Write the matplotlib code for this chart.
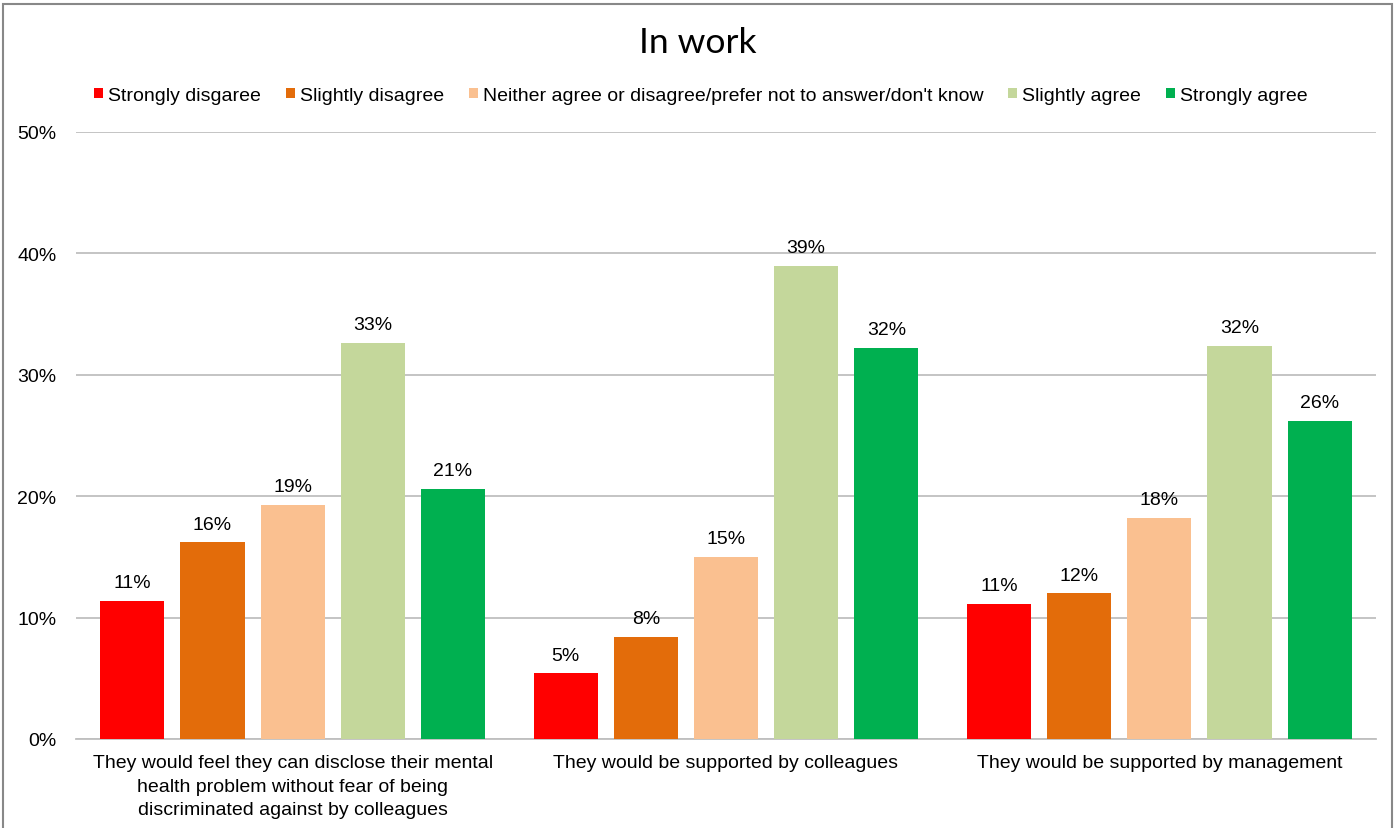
import numpy as np
import matplotlib
matplotlib.use('Agg')
import matplotlib.pyplot as plt
from matplotlib.patches import Patch, Rectangle

plt.rcParams['font.family'] = ['Liberation Sans', 'DejaVu Sans']

categories = ['They would feel they can disclose their mental\n'
              'health problem without fear of being\n'
              'discriminated against by colleagues',
              'They would be supported by colleagues',
              'They would be supported by management']
series = ['Strongly disgaree', 'Slightly disagree',
          "Neither agree or disagree/prefer not to answer/don't know",
          'Slightly agree', 'Strongly agree']
strongly_disagree = [11.4, 5.4, 11.1]
slightly_disagree = [16.2, 8.4, 12.0]
neither = [19.3, 15.0, 18.2]
slightly_agree = [32.6, 39.0, 32.4]
strongly_agree = [20.6, 32.2, 26.2]
yticks = [0, 10, 20, 30, 40, 50]

values = [strongly_disagree, slightly_disagree, neither,
          slightly_agree, strongly_agree]
colours = ['#FF0000', '#E36C0A', '#FAC090', '#C4D79B', '#00B050']
fs = 14

fig = plt.figure(figsize=(13.96, 8.29), dpi=100)
ax = fig.add_axes([0.0544, 0.1074, 0.9313, 0.7322])

x = np.arange(len(categories))
pitch = 0.185
width = 0.148
for i, (vals, col) in enumerate(zip(values, colours)):
    pos = x + (i - 2) * pitch
    bars = ax.bar(pos, vals, width=width, color=col, zorder=3)
    for b, v in zip(bars, vals):
        ax.annotate('%d%%' % round(v), (b.get_x() + b.get_width() / 2, v),
                    xytext=(0, 7), textcoords='offset points',
                    ha='center', va='bottom', fontsize=fs, color='#000000')

ax.set_xlim(-0.5, len(categories) - 0.5)
ax.set_ylim(0, 50)
ax.set_yticks(yticks)
ax.set_yticklabels(['%d%%' % t for t in yticks], fontsize=fs)
ax.set_xticks(x)
ax.set_xticklabels(categories, fontsize=fs, linespacing=1.5)
ax.tick_params(axis='both', length=0)
ax.tick_params(axis='y', pad=14)
ax.tick_params(axis='x', pad=11)
for k in ['top', 'right', 'left']:
    ax.spines[k].set_visible(False)
ax.spines['bottom'].set_color('#BFBFBF')
ax.spines['bottom'].set_linewidth(1.3)
ax.yaxis.grid(True, color='#BFBFBF', linewidth=1.3, zorder=0)
ax.set_axisbelow(True)

fig.text(0.5, 0.948, 'In work', ha='center', va='center', fontsize=25.5,
         family=['Lato', 'DejaVu Sans'])

handles = [Patch(facecolor=c, edgecolor='none') for c in colours]
fig.legend(handles, series, loc='center', bbox_to_anchor=(0.502, 0.884),
           ncol=5, frameon=False, fontsize=fs, handlelength=0.45,
           handleheight=0.45, handletextpad=0.25, columnspacing=1.3)

# outer frame
fig.patches.append(Rectangle((3 / 1396, -0.01), 1389 / 1396, 1 - 5 / 829 + 0.01,
                             transform=fig.transFigure, fill=False,
                             edgecolor='#888888', linewidth=1.5))

fig.savefig('out.png', dpi=100)
